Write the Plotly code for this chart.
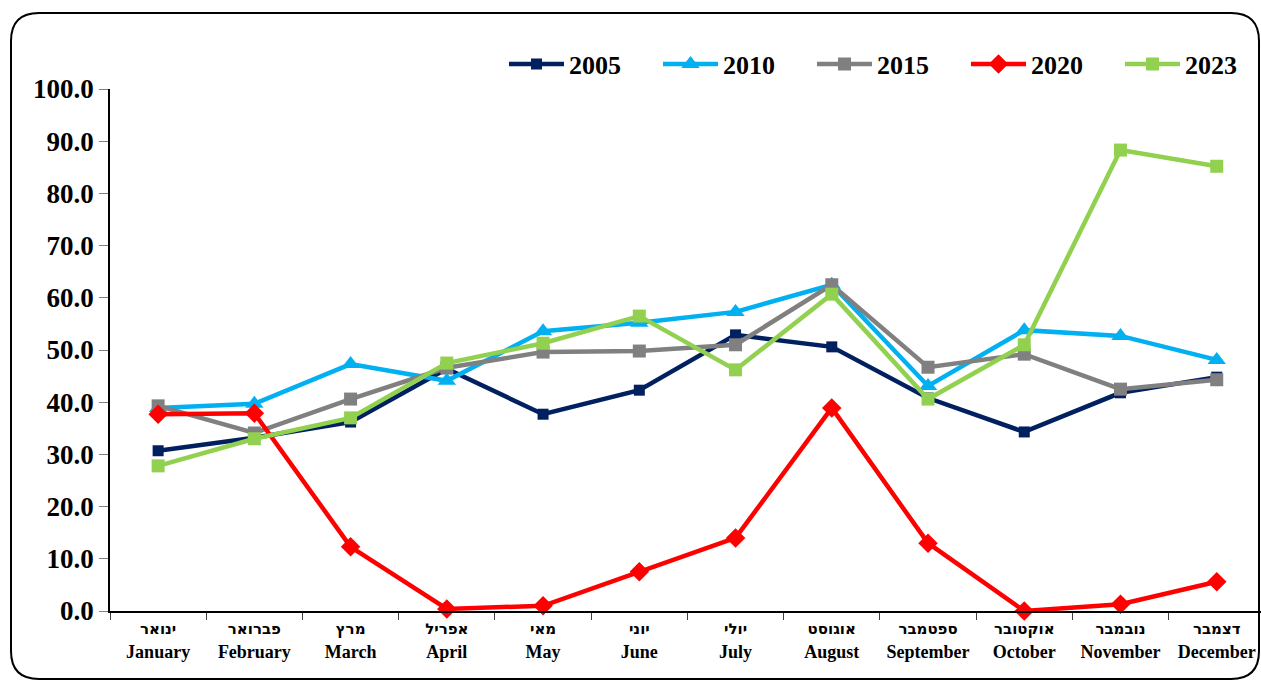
import plotly.graph_objects as go

months_he = ["ינואר", "פברואר", "מרץ", "אפריל", "מאי", "יוני", "יולי", "אוגוסט", "ספטמבר", "אוקטובר", "נובמבר", "דצמבר"]
months_en = ["January", "February", "March", "April", "May", "June", "July", "August", "September", "October", "November", "December"]

s2005 = [30.7, 33.2, 36.2, 46.4, 37.7, 42.3, 52.9, 50.6, 40.8, 34.3, 41.8, 44.8]
s2010 = [38.9, 39.7, 47.3, 44.1, 53.6, 55.2, 57.3, 62.5, 43.1, 53.8, 52.7, 48.1]
s2015 = [39.3, 34.1, 40.6, 46.6, 49.6, 49.8, 51.0, 62.5, 46.7, 49.2, 42.5, 44.3]
s2020 = [37.7, 37.9, 12.3, 0.4, 1.0, 7.5, 14.0, 38.9, 13.0, 0.0, 1.3, 5.6]
s2023 = [27.8, 33.0, 37.0, 47.5, 51.3, 56.5, 46.2, 60.7, 40.6, 51.0, 88.3, 85.2]

series = [
    ("2005", s2005, "#002060", "square", 11),
    ("2010", s2010, "#00B0F0", "triangle-up", 16),
    ("2015", s2015, "#808080", "square", 13),
    ("2020", s2020, "#FF0000", "diamond", 15),
    ("2023", s2023, "#92D050", "square", 13),
]

cats = [
    f"<span style='font-family:DejaVu Sans;font-size:15px'><b>{h}</b></span><br><b>{e}</b>"
    for h, e in zip(months_he, months_en)
]

fig = go.Figure()
for name, vals, color, sym, size in series:
    fig.add_trace(go.Scatter(
        x=cats, y=vals, name=name, mode="lines+markers",
        line=dict(color=color, width=4.5),
        marker=dict(symbol=sym, size=size, color=color),
        cliponaxis=False,
    ))

W, H = 1261, 680
ml, mt = 110, 89
plot_bottom = 611
mr, mb = 0, H - plot_bottom
pw, ph = W - ml - mr, H - mt - mb

def px(x):
    return (x - ml) / pw

def py(y):
    return (plot_bottom - y) / ph

x0, x1, y0, y1 = 11, 1259, 13, 679
r = 28
path = (
    f"M {px(x0+r)},{py(y0)} L {px(x1-r)},{py(y0)} "
    f"Q {px(x1)},{py(y0)} {px(x1)},{py(y0+r)} "
    f"L {px(x1)},{py(y1-r)} Q {px(x1)},{py(y1)} {px(x1-r)},{py(y1)} "
    f"L {px(x0+r)},{py(y1)} Q {px(x0)},{py(y1)} {px(x0)},{py(y1-r)} "
    f"L {px(x0)},{py(y0+r)} Q {px(x0)},{py(y0)} {px(x0+r)},{py(y0)} Z"
)

fig.update_layout(
    width=W, height=H,
    margin=dict(l=ml, r=mr, t=mt, b=mb, autoexpand=False),
    paper_bgcolor="white", plot_bgcolor="white",
    font=dict(family="Liberation Serif, Times New Roman, serif", color="black"),
    showlegend=True,
    legend=dict(
        orientation="h", x=px(504), xanchor="left", y=py(64), yanchor="middle",
        font=dict(size=26, family="Liberation Serif", weight="bold"),
        bgcolor="rgba(0,0,0,0)", entrywidth=84, itemwidth=55, tracegroupgap=0,
    ),
    shapes=[dict(type="path", path=path, xref="paper", yref="paper",
                 line=dict(color="black", width=2), layer="below")],
    xaxis=dict(
        type="category", range=[-0.5, 11.46],
        showline=True, linecolor="black", linewidth=1.5,
        ticks="outside", tickson="boundaries", ticklen=7, tickcolor="#404040",
        showgrid=False, zeroline=False, automargin=False,
        tickfont=dict(size=18, family="Liberation Serif", weight="bold"),
    ),
    yaxis=dict(
        range=[0, 100], dtick=10, tickformat=".1f",
        showline=True, linecolor="black", linewidth=1.5,
        ticks="outside", ticklen=9, tickcolor="#808080",
        showgrid=False, zeroline=False, automargin=False,
        tickfont=dict(size=27, family="Liberation Serif", weight="bold"),
    ),
)

fig.write_html(
    "out.html",
    config={"displayModeBar": False},
    post_script="document.body.style.margin='0';document.body.style.overflow='hidden';",
)
